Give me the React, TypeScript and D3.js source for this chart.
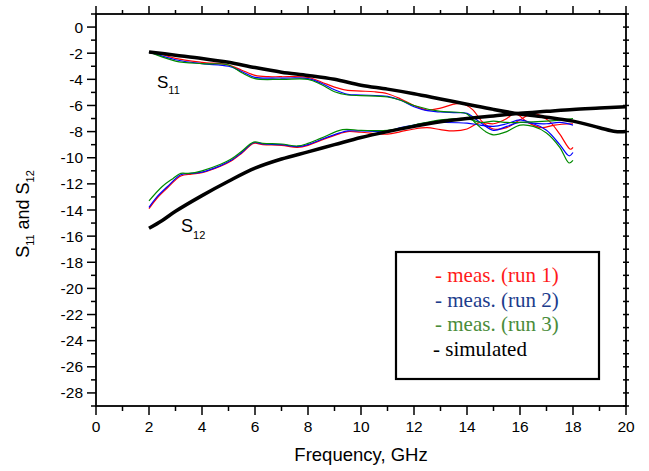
import React from "react";
import * as d3 from "d3";

type Pt = [number, number];

const xTicks = [0, 2, 4, 6, 8, 10, 12, 14, 16, 18, 20];
const yTicks = [0, -2, -4, -6, -8, -10, -12, -14, -16, -18, -20, -22, -24, -26, -28];

const simS11: Pt[] = [[2, -1.9], [3, -2.15], [4, -2.4], [5, -2.7], [6, -3.1], [7, -3.45], [8, -3.7], [9, -4.0], [10, -4.45], [11, -4.75], [12, -5.1], [13, -5.5], [14, -5.9], [15, -6.3], [16, -6.65], [17, -6.9], [18, -7.2], [19, -7.7], [19.6, -8.0], [20, -8.0]];
const simS12: Pt[] = [[2, -15.4], [2.5, -14.8], [3, -14.1], [4, -12.9], [5, -11.8], [6, -10.8], [7, -10.1], [8, -9.55], [9, -9.0], [10, -8.45], [11, -8.0], [12, -7.6], [13, -7.25], [14, -7.0], [15, -6.8], [16, -6.6], [17, -6.45], [18, -6.3], [19, -6.2], [20, -6.1]];

const run1S11: Pt[] = [[2, -1.9], [2.5, -2.1], [3, -2.4], [4, -2.7], [5, -2.9], [5.5, -3.3], [6, -3.7], [6.5, -3.8], [7, -3.8], [8, -3.85], [8.5, -4.2], [9, -4.6], [9.5, -4.85], [10, -4.9], [10.5, -4.95], [11, -5.1], [11.5, -5.5], [12, -6.0], [12.5, -6.35], [13, -6.2], [13.5, -5.9], [13.8, -5.85], [14.2, -6.3], [14.6, -7.3], [15, -7.8], [15.5, -7.7], [16, -7.1], [16.5, -6.6], [17.1, -7.2], [17.5, -8.2], [17.9, -9.35], [18, -9.2]];
const run2S11: Pt[] = [[2, -1.9], [3, -2.5], [4, -2.8], [5, -3.0], [5.5, -3.4], [6, -3.85], [7, -3.9], [8, -3.95], [8.5, -4.3], [9, -4.8], [9.5, -5.15], [10, -5.2], [11, -5.3], [11.5, -5.6], [12, -6.1], [12.5, -6.4], [13, -6.5], [13.5, -6.55], [14, -6.6], [14.5, -7.3], [15, -7.9], [15.5, -7.6], [16, -7.3], [16.5, -7.4], [17, -7.9], [17.5, -9.0], [17.85, -9.85], [18, -9.6]];
const run3S11: Pt[] = [[2, -1.9], [3, -2.6], [4, -2.8], [5, -2.9], [5.5, -3.5], [6, -3.95], [7, -4.0], [8, -4.0], [8.5, -4.4], [9, -4.95], [9.5, -5.2], [10, -5.25], [11, -5.35], [11.5, -5.6], [12, -6.0], [13, -6.45], [13.5, -6.5], [14, -6.65], [14.3, -7.3], [14.7, -8.0], [15, -8.25], [15.5, -8.0], [16, -7.5], [16.5, -7.6], [17, -8.1], [17.5, -9.2], [17.85, -10.4], [18, -10.2]];

const run1S12: Pt[] = [[2, -13.9], [2.3, -13.1], [2.7, -12.3], [3.2, -11.4], [3.6, -11.25], [4, -11.15], [4.7, -10.65], [5.1, -10.25], [5.5, -9.65], [5.95, -8.9], [6.3, -9.0], [7, -9.05], [7.6, -9.2], [8, -9.05], [8.5, -8.65], [9.2, -8.15], [9.5, -8.0], [10, -8.05], [11, -8.2], [11.5, -8.0], [12, -7.8], [12.5, -7.7], [13, -7.85], [13.5, -7.95], [14, -7.8], [14.5, -7.3], [15, -7.4], [15.5, -7.0], [15.8, -6.6], [16.3, -7.3], [16.8, -7.7], [17.3, -7.5], [18, -7.4]];
const run2S12: Pt[] = [[2, -13.8], [2.3, -13.0], [2.7, -12.2], [3.2, -11.3], [3.6, -11.2], [4, -11.1], [4.7, -10.6], [5.1, -10.2], [5.5, -9.6], [5.95, -8.85], [6.3, -8.95], [7, -9.0], [7.6, -9.15], [8, -9.0], [8.5, -8.6], [9.2, -8.1], [9.5, -7.95], [10, -7.95], [11, -7.95], [11.5, -7.7], [12, -7.5], [12.6, -7.3], [13, -7.3], [14, -7.35], [14.5, -7.5], [15, -7.6], [15.5, -7.4], [16, -7.1], [16.5, -7.35], [17, -7.4], [17.5, -7.3], [18, -7.5]];
const run3S12: Pt[] = [[2, -13.3], [2.5, -12.2], [2.9, -11.6], [3.2, -11.2], [3.5, -11.2], [4, -11.0], [4.7, -10.5], [5.1, -10.1], [5.5, -9.5], [5.95, -8.8], [6.3, -8.9], [7, -8.95], [7.6, -9.1], [8, -8.9], [8.5, -8.5], [9.3, -7.85], [10, -7.9], [11, -7.9], [12, -7.5], [13, -7.1], [14, -7.0], [14.5, -7.3], [15, -7.2], [15.5, -7.3], [16, -7.3], [17, -7.2], [18, -7.0]];

const legendItems = ["- meas. (run 1)", "- meas. (run 2)", "- meas. (run 3)", "- simulated"];
const legendColors = ["#ff1a1a", "#1c3c8c", "#4a8c3a", "#000000"];

const W = 649, H = 471;
const x = d3.scaleLinear().domain([0, 20]).range([96, 626]);
const y = d3.scaleLinear().domain([-29, 1]).range([406, 14]);

const line = d3.line<Pt>().x(d => x(d[0])).y(d => y(d[1])).curve(d3.curveCatmullRom.alpha(0.5));

const font = "Arial, 'Liberation Sans', sans-serif";
const serif = "'Times New Roman', 'Liberation Serif', serif";

export default function App() {
  const xMinor = d3.range(0, 21, 1);
  const yMinor = d3.range(-29, 2, 1);
  const measured: [Pt[], string][] = [
    [run1S11, "#ff0000"], [run1S12, "#ff0000"],
    [run2S11, "#0000ff"], [run2S12, "#0000ff"],
    [run3S11, "#008a00"], [run3S12, "#008a00"],
  ];
  return (
    <svg width={W} height={H} style={{ position: "absolute", left: 0, top: 0, background: "#fff" }}>
      {xMinor.map(v => {
        const major = v % 2 === 0;
        return (
          <g key={"xt" + v} stroke="#000" strokeWidth={1.5}>
            <line x1={x(v)} x2={x(v)} y1={406} y2={406 + (major ? 9 : 5)} />
            <line x1={x(v)} x2={x(v)} y1={14} y2={14 - (major ? 8 : 4)} />
          </g>
        );
      })}
      {yMinor.map(v => {
        const major = v % 2 === 0;
        return (
          <g key={"yt" + v} stroke="#000" strokeWidth={1.5}>
            <line x1={96} x2={96 - (major ? 9 : 5)} y1={y(v)} y2={y(v)} />
            <line x1={623} x2={629} y1={y(v)} y2={y(v)} />
          </g>
        );
      })}
      <rect x={96} y={14} width={530} height={392} fill="none" stroke="#000" strokeWidth={1.8} />
      {xTicks.map(v => (
        <text key={"xl" + v} x={x(v)} y={432} textAnchor="middle" fontFamily={font} fontSize={15.5}>{v}</text>
      ))}
      {yTicks.map(v => (
        <text key={"yl" + v} x={83} y={y(v) + 5.5} textAnchor="end" fontFamily={font} fontSize={15.5}>{v}</text>
      ))}
      <text x={361} y={461} textAnchor="middle" fontFamily={font} fontSize={18.5}>Frequency, GHz</text>
      <text transform="translate(29,214) rotate(-90)" textAnchor="middle" fontFamily={font} fontSize={18}>
        S<tspan fontSize={11} dy={5}>11</tspan><tspan dy={-5}> and S</tspan><tspan fontSize={11} dy={5}>12</tspan>
      </text>
      {measured.map(([d, c], i) => (
        <path key={"m" + i} d={line(d) || ""} fill="none" stroke={c} strokeWidth={1.2} />
      ))}
      <path d={line(simS11) || ""} fill="none" stroke="#000" strokeWidth={3.5} />
      <path d={line(simS12) || ""} fill="none" stroke="#000" strokeWidth={3.5} />
      <text x={157} y={88} fontFamily={font} fontSize={17}>S<tspan fontSize={11} dy={6}>11</tspan></text>
      <text x={181} y={232} fontFamily={font} fontSize={18}>S<tspan fontSize={11} dy={7}>12</tspan></text>
      <rect x={396} y={252} width={203} height={127} fill="#fff" stroke="#000" strokeWidth={2.2} />
      {legendItems.map((t, i) => (
        <text key={"lg" + i} x={i === 3 ? 433 : 435} y={282 + i * 24.5} fontFamily={serif} fontSize={21} fill={legendColors[i]}>{t}</text>
      ))}
    </svg>
  );
}
